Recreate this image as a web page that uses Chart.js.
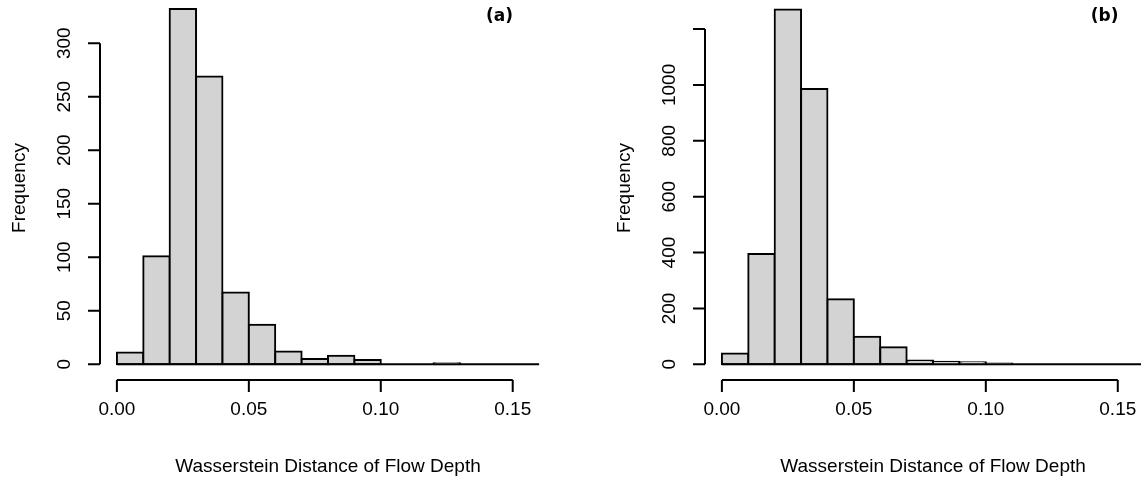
<!DOCTYPE html>
<html>
<head>
<meta charset="utf-8">
<script src="https://cdn.jsdelivr.net/npm/chart.js@4"></script>
<style>
  html, body { margin: 0; padding: 0; background: #fff; }
  #wrap { position: relative; width: 1141px; height: 478px; overflow: hidden; }
  canvas { position: absolute; top: 0; }
</style>
</head>
<body>
<div id="wrap">
  <canvas id="histA" width="570" height="478" style="left:0"></canvas>
  <canvas id="histB" width="571" height="478" style="left:570px"></canvas>
</div>
<script>
// histogram bins (width 0.01), given by their midpoints
var binMids = [0.005, 0.015, 0.025, 0.035, 0.045, 0.055, 0.065, 0.075,
               0.085, 0.095, 0.105, 0.115, 0.125, 0.135, 0.145, 0.155];
var countsA = [11, 101, 332, 269, 67, 37, 12, 5, 8, 4, 0, 0, 1, 0, 0, 0];
var countsB = [39, 395, 1270, 985, 233, 99, 61, 14, 9, 7, 3, 0, 0, 0, 0, 0];

var xTicks = [0, 0.05, 0.10, 0.15];
var xTickLabels = ['0.00', '0.05', '0.10', '0.15'];
var yTicksA = [0, 50, 100, 150, 200, 250, 300];
var yTickLabelsA = ['0', '50', '100', '150', '200', '250', '300'];
var yTicksB = [0, 200, 400, 600, 800, 1000, 1200];
var yTickLabelsB = ['0', '200', '400', '600', '800', '1000', ''];

var xTitle = 'Wasserstein Distance of Flow Depth';
var yTitle = 'Frequency';

const binHalf = 0.005;
const tickLen = 12;
const labelFont = '19px "Liberation Sans", Arial, sans-serif';

// R style axes: detached x axis, y axis only as long as its ticks
const rAxes = {
  id: 'rAxes',
  afterDatasetsDraw(chart, args, opts) {
    const ctx = chart.ctx;
    const xs = chart.scales.x;
    const ys = chart.scales.y;
    const area = chart.chartArea;
    const y0 = ys.getPixelForValue(0);

    ctx.save();
    ctx.strokeStyle = '#000';
    ctx.fillStyle = '#000';
    ctx.lineWidth = 2;

    // zero height bins still show their bottom edge
    ctx.beginPath();
    ctx.moveTo(xs.getPixelForValue(binMids[0] - binHalf), y0);
    ctx.lineTo(xs.getPixelForValue(binMids[binMids.length - 1] + binHalf), y0);
    ctx.stroke();

    // y axis
    const left = area.left;
    ctx.beginPath();
    ctx.moveTo(left, ys.getPixelForValue(opts.yTicks[0]));
    ctx.lineTo(left, ys.getPixelForValue(opts.yTicks[opts.yTicks.length - 1]));
    for (const t of opts.yTicks) {
      const py = ys.getPixelForValue(t);
      ctx.moveTo(left, py);
      ctx.lineTo(left - tickLen, py);
    }
    ctx.stroke();

    ctx.font = labelFont;
    ctx.textAlign = 'center';
    ctx.textBaseline = 'alphabetic';
    opts.yLabels.forEach(function (lab, i) {
      if (!lab) return;
      ctx.save();
      ctx.translate(left - 30, ys.getPixelForValue(opts.yTicks[i]));
      ctx.rotate(-Math.PI / 2);
      ctx.fillText(lab, 0, 0);
      ctx.restore();
    });

    // y title
    ctx.save();
    ctx.translate(left - 75, 188);
    ctx.rotate(-Math.PI / 2);
    ctx.fillText(yTitle, 0, 0);
    ctx.restore();

    // x axis
    const bottom = area.bottom;
    ctx.beginPath();
    ctx.moveTo(xs.getPixelForValue(xTicks[0]), bottom);
    ctx.lineTo(xs.getPixelForValue(xTicks[xTicks.length - 1]), bottom);
    for (const t of xTicks) {
      const px = xs.getPixelForValue(t);
      ctx.moveTo(px, bottom);
      ctx.lineTo(px, bottom + tickLen);
    }
    ctx.stroke();

    xTickLabels.forEach(function (lab, i) {
      ctx.fillText(lab, xs.getPixelForValue(xTicks[i]), 415);
    });
    ctx.fillText(xTitle, xs.getPixelForValue(0.08), 472);

    // panel tag
    ctx.font = 'bold 17px "DejaVu Sans", sans-serif';
    ctx.textBaseline = 'middle';
    ctx.fillText(opts.tag, xs.getPixelForValue(0.145), 17);
    ctx.restore();
  }
};

function makeHist(canvasId, counts, setup) {
  const points = binMids.map(function (m, i) {
    return { x: m, y: counts[i] };
  });
  return new Chart(document.getElementById(canvasId), {
    type: 'bar',
    data: {
      datasets: [{
        data: points,
        backgroundColor: '#d3d3d3',
        borderColor: '#000',
        borderWidth: 2,
        borderSkipped: false,
        inflateAmount: 1,
        barPercentage: 1,
        categoryPercentage: 1
      }]
    },
    options: {
      responsive: false,
      animation: false,
      events: [],
      layout: { padding: setup.padding },
      plugins: {
        legend: { display: false },
        tooltip: { enabled: false },
        rAxes: { yTicks: setup.yTicks, yLabels: setup.yLabels, tag: setup.tag }
      },
      scales: {
        x: { type: 'linear', display: false, offset: false, min: setup.xMin, max: setup.xMax },
        y: { type: 'linear', display: false, min: setup.yMin, max: setup.yMax }
      }
    },
    plugins: [rAxes]
  });
}

window.onload = function () {
  makeHist('histA', countsA, {
    padding: { left: 100, right: 14, top: 0, bottom: 98 },
    xMin: -0.0064, xMax: 0.1664,
    yMin: -14.7, yMax: 340.4,
    yTicks: yTicksA, yLabels: yTickLabelsA, tag: '(a)'
  });
  makeHist('histB', countsB, {
    padding: { left: 135, right: 0, top: 0, bottom: 98 },
    xMin: -0.0064, xMax: 0.1588,
    yMin: -56.2, yMax: 1303.9,
    yTicks: yTicksB, yLabels: yTickLabelsB, tag: '(b)'
  });
};
</script>
</body>
</html>
